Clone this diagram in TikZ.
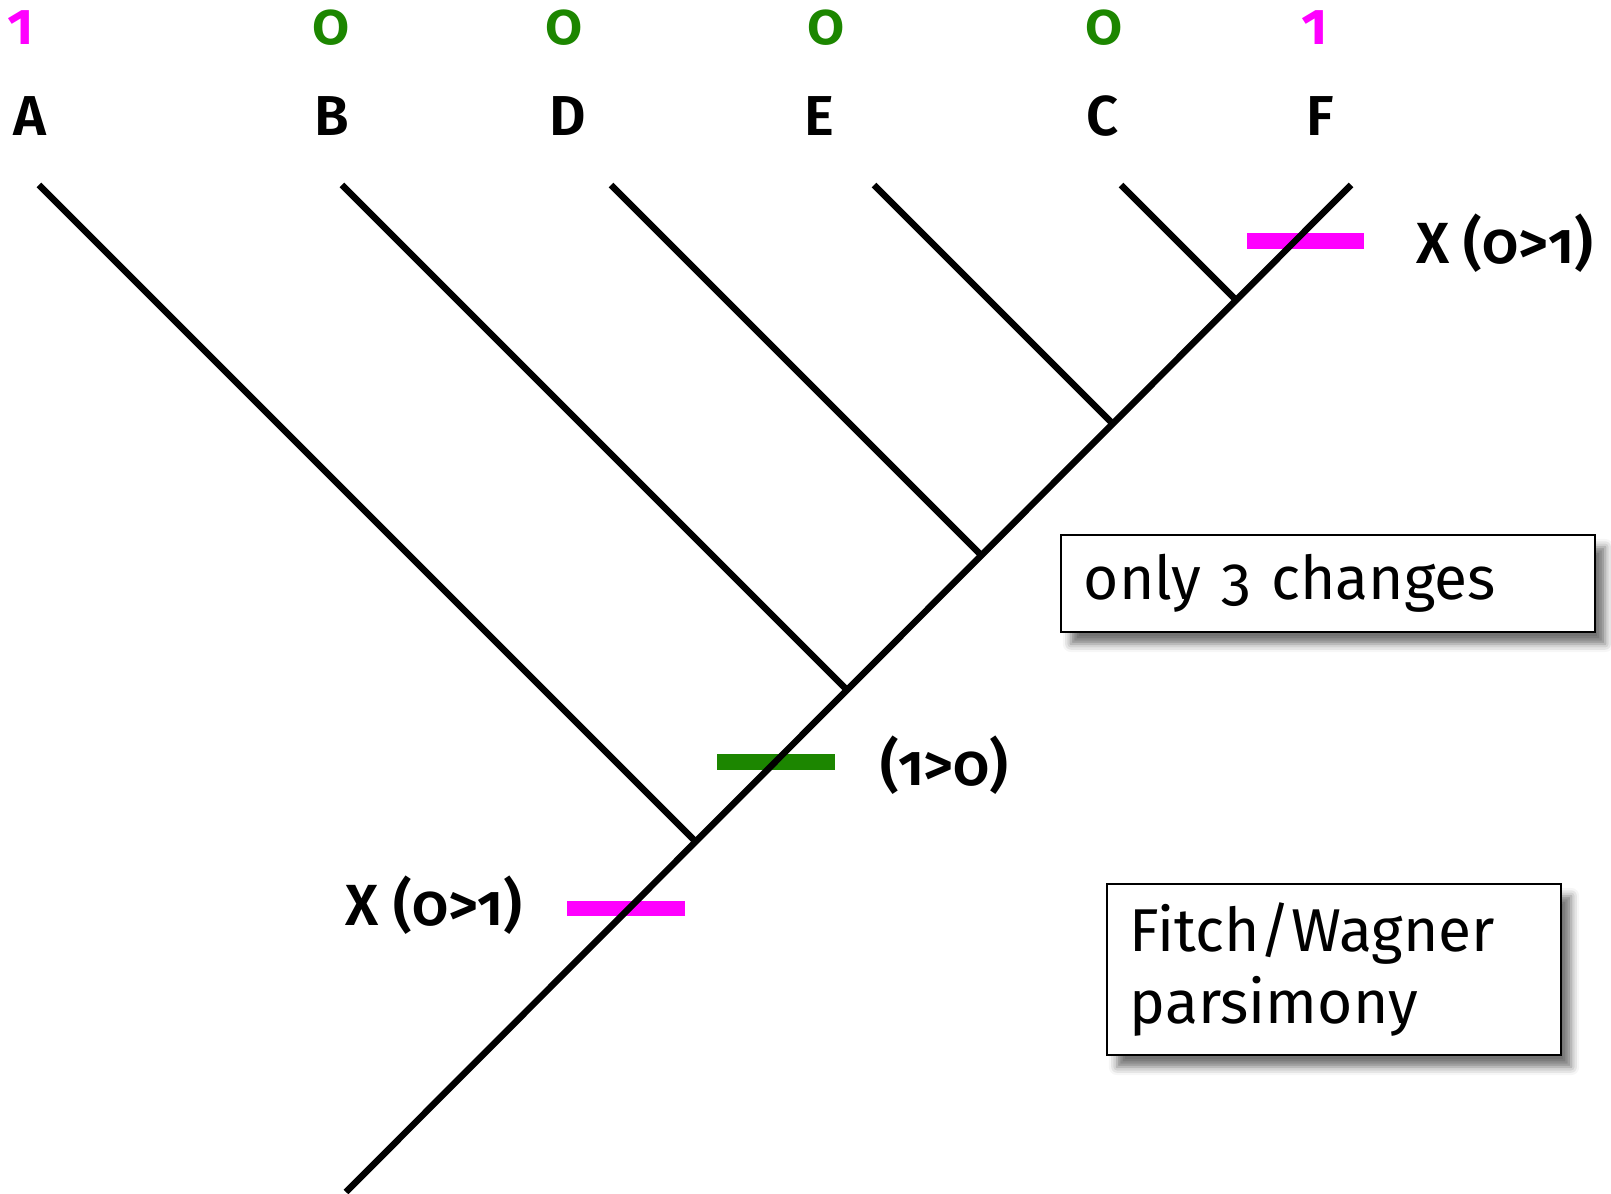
\documentclass[tikz,border=0pt]{standalone}
\usepackage{fontspec}
\setmainfont{Fira Sans}[Numbers=OldStyle, BoldFont={Fira Sans SemiBold}]
\usetikzlibrary{shadows.blur}
\definecolor{gainpink}{RGB}{255,0,255}
\definecolor{lossgreen}{RGB}{28,134,0}
\tikzset{branch/.style={line width=0.065cm}}
\tikzset{taxon/.style={font=\fontsize{16}{16}\selectfont\bfseries}}
\tikzset{charstate/.style={font=\fontsize{17}{17}\selectfont\bfseries}}
\tikzset{changelbl/.style={font=\fontsize{16.5}{16.5}\selectfont\bfseries}}
\tikzset{tickbar/.style={inner sep=0pt, minimum width=1.17cm, minimum height=0.155cm}}
\tikzset{notebox/.style={draw, line width=0.02cm, fill=white, align=left, inner xsep=0.23cm,
  font=\fontsize{17.2}{20.5}\selectfont,
  blur shadow={shadow xshift=0.1cm, shadow yshift=-0.12cm, shadow blur radius=0.08cm, shadow opacity=55}}}

\begin{document}
\begin{tikzpicture}[x=0.01cm, y=-0.01cm]
\useasboundingbox (0,0) rectangle (1611,1194);

% character states
\node[charstate, gainpink] (sA) at (21, 28) {1};
\node[charstate, lossgreen] (sB) at (331, 28) {0};
\node[charstate, lossgreen] (sD) at (564, 28) {0};
\node[charstate, lossgreen] (sE) at (826, 28) {0};
\node[charstate, lossgreen] (sC) at (1104, 28) {0};
\node[charstate, gainpink] (sF) at (1315, 28) {1};

% taxa
\node[taxon] (A) at (30, 116) {A};
\node[taxon] (B) at (332, 116) {B};
\node[taxon] (D) at (568, 116) {D};
\node[taxon] (E) at (819, 116) {E};
\node[taxon] (C) at (1103, 116) {C};
\node[taxon] (F) at (1320, 116) {F};

% tips and joins
\coordinate (tA) at (39, 185);
\coordinate (tB) at (342, 185);
\coordinate (tD) at (611, 185);
\coordinate (tE) at (874, 185);
\coordinate (tC) at (1121, 185);
\coordinate (tF) at (1351, 185);
\coordinate (jA) at (695.5, 841.5);
\coordinate (jB) at (847, 690);
\coordinate (jD) at (981.5, 555.5);
\coordinate (jE) at (1113, 424);
\coordinate (jC) at (1236.5, 300.5);
\coordinate (root) at (346, 1192);

% changes on the stem
\node[tickbar, fill=gainpink] (gain1) at (1305.5, 241) {};
\node[tickbar, fill=lossgreen] (loss1) at (776, 762) {};
\node[tickbar, fill=gainpink] (gain2) at (626, 908.5) {};

\draw[branch] (root) -- (tF);
\draw[branch] (jA) -- (tA);
\draw[branch] (jB) -- (tB);
\draw[branch] (jD) -- (tD);
\draw[branch] (jE) -- (tE);
\draw[branch] (jC) -- (tC);

\node[changelbl, anchor=west] (g1lbl) at (1404, 243) {X (0>1)};
\node[changelbl, anchor=west] (l1lbl) at (868, 765) {(1>0)};
\node[changelbl, anchor=east] (g2lbl) at (535, 905) {X (0>1)};

\node[notebox, minimum width=5.34cm, minimum height=0.97cm, text width=4.88cm] (count) at (1328, 583.5) {only 3 changes};
\node[notebox, minimum width=4.54cm, minimum height=1.71cm, text width=4.08cm] (method) at (1334, 969.5) {Fitch/Wagner\\parsimony};

\end{tikzpicture}
\end{document}
